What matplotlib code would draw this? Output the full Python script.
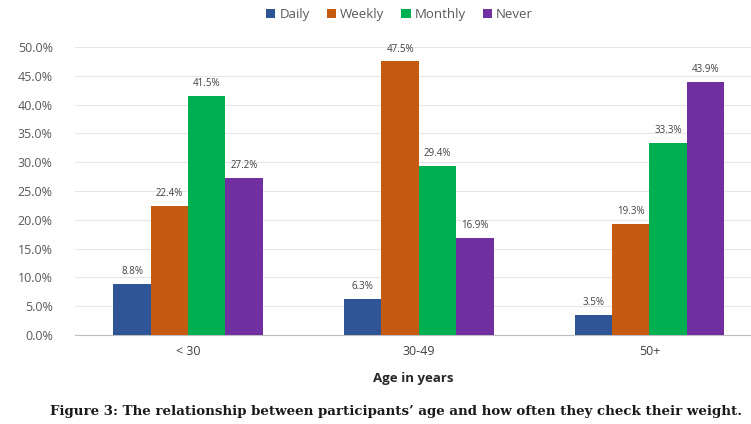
import matplotlib
matplotlib.use("Agg")
import matplotlib.pyplot as plt
import numpy as np

categories = ["< 30", "30-49", "50+"]
series_names = ["Daily", "Weekly", "Monthly", "Never"]
daily = [8.8, 6.3, 3.5]
weekly = [22.4, 47.5, 19.3]
monthly = [41.5, 29.4, 33.3]
never = [27.2, 16.9, 43.9]
colors = ["#2F5597", "#C55A11", "#00B050", "#7030A0"]
yticks = [0, 5, 10, 15, 20, 25, 30, 35, 40, 45, 50]

plt.rcParams['font.family'] = ['Open Sans', 'DejaVu Sans']

fig = plt.figure(figsize=(7.51, 4.24), dpi=100)
ax = fig.add_axes([0.0999, 0.21, 0.9001, 0.679])

x = np.arange(len(categories))
w = 0.162
allvals = [daily, weekly, monthly, never]
for i, (name, vals, c) in enumerate(zip(series_names, allvals, colors)):
    pos = x + (i - 1.5) * w
    bars = ax.bar(pos, vals, width=w, color=c, label=name, zorder=3)
    for b, v in zip(bars, vals):
        ax.text(b.get_x() + b.get_width() / 2, v + 1.2, f"{v:.1f}%",
                ha='center', va='bottom', fontsize=7, color='#404040')

ax.set_ylim(0, 50)
ax.set_xlim(-0.49, 2.44)
ax.set_yticks(yticks)
ax.set_yticklabels([f"{t:.1f}%" for t in yticks], fontsize=9, color='#595959')
ax.set_xticks(x)
ax.set_xticklabels(categories, fontsize=9, color='#404040')
ax.tick_params(axis='both', length=0)
ax.tick_params(axis='y', pad=16)
ax.tick_params(axis='x', pad=7)
ax.grid(axis='y', color='#E6E6E6', linewidth=0.8, zorder=0)
for s in ['top', 'right', 'left']:
    ax.spines[s].set_visible(False)
ax.spines['bottom'].set_color('#BFBFBF')

ax.set_xlabel("Age in years", fontsize=9.5, fontweight='bold', color='#262626', labelpad=10)

fig.legend(loc='center', bbox_to_anchor=(0.532, 0.965), ncol=4, frameon=False,
           fontsize=9.5, handlelength=0.7, handleheight=0.7, handletextpad=0.3,
           columnspacing=1.3, labelcolor='#595959')

fig.text(0.527, 0.03, "Figure 3: The relationship between participants\u2019 age and how often they check their weight.",
         ha='center', va='center', fontsize=9.6, fontweight='bold', family='DejaVu Serif', color='#1a1a1a')

fig.savefig("out.png", dpi=100)
